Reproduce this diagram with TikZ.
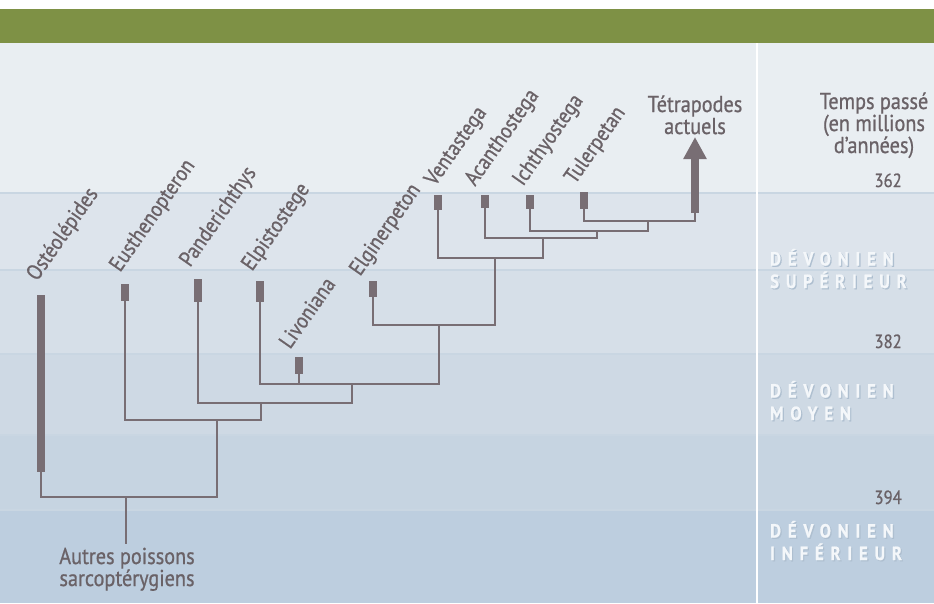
\documentclass[tikz,border=0pt]{standalone}
\usepackage{fontspec}
\setmainfont{PT Sans}[FakeStretch=0.88,FakeBold=0.8]
\usetikzlibrary{arrows.meta}
\definecolor{topgreen}{HTML}{7E9145}
\definecolor{bandA}{HTML}{E9EEF2}
\definecolor{bandB}{HTML}{DDE4EC}
\definecolor{bandC}{HTML}{D6DFE8}
\definecolor{bandD}{HTML}{CED9E4}
\definecolor{bandE}{HTML}{C6D4E1}
\definecolor{bandF}{HTML}{BDCEDF}
\definecolor{sepline}{HTML}{C9D6E2}
\definecolor{tree}{HTML}{786E74}
\definecolor{treetext}{HTML}{6A6267}
\definecolor{pshadow}{HTML}{AEBFD0}
\definecolor{ptext}{HTML}{F4F7FA}
\newcommand\labfont{\fontsize{23}{22}\selectfont}
\newcommand\taxfont{\fontsize{22}{22}\selectfont}
\newcommand\numfont{\fontsize{19}{20}\selectfont}
\newcommand\perfont{\fontsize{19}{22.5}\selectfont\bfseries\addfontfeature{LetterSpace=36}}
\tikzset{
  conn/.style={draw=tree, line width=2.2pt, line join=miter},
  bar/.style={fill=tree, draw=none, inner sep=0pt, minimum width=8pt, anchor=north},
  taxon/.style={rotate=55, anchor=base west, inner sep=0pt, text=treetext, font=\taxfont},
  plain/.style={inner sep=0pt, text=treetext, font=\labfont, align=center, anchor=base},
  num/.style={inner sep=0pt, text=treetext, font=\numfont, anchor=base east},
  period/.style={inner sep=0pt, font=\perfont, anchor=base west, align=left},
}
\begin{document}
\begin{tikzpicture}[x=1pt,y=-1pt]
\useasboundingbox (0,0) rectangle (934,603);
% background bands
\fill[white] (0,0) rectangle (934,9);
\fill[topgreen] (0,9) rectangle (934,43);
\fill[bandA] (0,43) rectangle (934,193);
\fill[bandB] (0,193) rectangle (934,270);
\fill[bandC] (0,270) rectangle (934,354);
\fill[bandD] (0,354) rectangle (934,435);
\fill[bandE] (0,435) rectangle (934,510);
\fill[bandF] (0,510) rectangle (934,603);
\foreach \yy in {193,270,354,435,510}
  \draw[sepline, line width=2pt] (0,\yy) -- (934,\yy);
\draw[white, line width=2pt] (757,43) -- (757,603);

% taxa bars
\node[bar, minimum height=177pt] (ost) at (41,295) {};
\node[bar, minimum height=17pt] (eus) at (125,284) {};
\node[bar, minimum height=23pt] (pan) at (198,279) {};
\node[bar, minimum height=21pt] (elp) at (260,281) {};
\node[bar, minimum height=17pt] (liv) at (299,357) {};
\node[bar, minimum height=16pt] (elg) at (373,281) {};
\node[bar, minimum height=15pt] (ven) at (438,195) {};
\node[bar, minimum height=13pt] (aca) at (485,195) {};
\node[bar, minimum height=14pt] (ich) at (530,195) {};
\node[bar, minimum height=17pt] (tul) at (584,192) {};
\coordinate (tetbase) at (695,213);
\coordinate (tettip) at (695,137);

% junctions
\coordinate (j1) at (648,221);
\coordinate (j2) at (597,231);
\coordinate (j3) at (543,238);
\coordinate (j4) at (495,258);
\coordinate (j5) at (439,325);
\coordinate (j6) at (352,384);
\coordinate (j7) at (261,403);
\coordinate (j8) at (217,420);
\coordinate (j9) at (126,497);
\coordinate (rootend) at (126,544);

% connectors
\draw[conn] (tul.south) |- (j1) -| (tetbase);
\draw[conn] (ich.south) |- (j2);
\draw[conn] (j1) |- (j2);
\draw[conn] (aca.south) |- (j3);
\draw[conn] (j2) |- (j3);
\draw[conn] (ven.south) |- (j4);
\draw[conn] (j3) |- (j4);
\draw[conn] (elg.south) |- (j5);
\draw[conn] (j4) |- (j5);
\draw[conn] (elp.south) |- (j6);
\draw[conn] (liv.south) -- (liv.south |- j6);
\draw[conn] (j5) |- (j6);
\draw[conn] (pan.south) |- (j7);
\draw[conn] (j6) |- (j7);
\draw[conn] (eus.south) |- (j8);
\draw[conn] (j7) |- (j8);
\draw[conn] (ost.south) |- (j9);
\draw[conn] (j8) |- (j9);
\draw[conn] (j9) -- (rootend);
\draw[draw=tree, line width=8pt, -{Triangle[width=22pt,length=22pt]}] (tetbase) -- (tettip);

% taxon labels
\node[taxon] (lost) at (37,282) {Ostéolépides};
\node[taxon] (leus) at (120,273) {Eusthenopteron};
\node[taxon] (lpan) at (190,268) {Panderichthys};
\node[taxon] (lelp) at (252,272) {Elpistostege};
\node[taxon] (lliv) at (290,350) {Livoniana};
\node[taxon] (lelg) at (360,277) {Elginerpeton};
\node[taxon] (lven) at (435,187) {Ventastega};
\node[taxon] (laca) at (475,187) {Acanthostega};
\node[taxon] (lich) at (523,187) {Ichthyostega};
\node[taxon] (ltul) at (575,185) {Tulerpetan};

\node[plain] (ltet) at (695,134) {Tétrapodes\\actuels};
\node[plain] (root) at (127,586) {Autres poissons\\sarcoptérygiens};
\node[plain] (time) at (874,153) {Temps passé\\(en millions\\d’années)};

\node[num] (n362) at (902,187) {362};
\node[num] (n382) at (902,348) {382};
\node[num] (n394) at (902,504) {394};

\node[period, text=pshadow] (psups) at (771.2,289.2) {DÉVONIEN\\SUPÉRIEUR};
\node[period, text=ptext] (psup) at (770,288) {DÉVONIEN\\SUPÉRIEUR};
\node[period, text=pshadow] (pmoys) at (771.2,421.2) {DÉVONIEN\\MOYEN};
\node[period, text=ptext] (pmoy) at (770,420) {DÉVONIEN\\MOYEN};
\node[period, text=pshadow] (pinfs) at (771.2,561.2) {DÉVONIEN\\INFÉRIEUR};
\node[period, text=ptext] (pinf) at (770,560) {DÉVONIEN\\INFÉRIEUR};
\end{tikzpicture}
\end{document}
